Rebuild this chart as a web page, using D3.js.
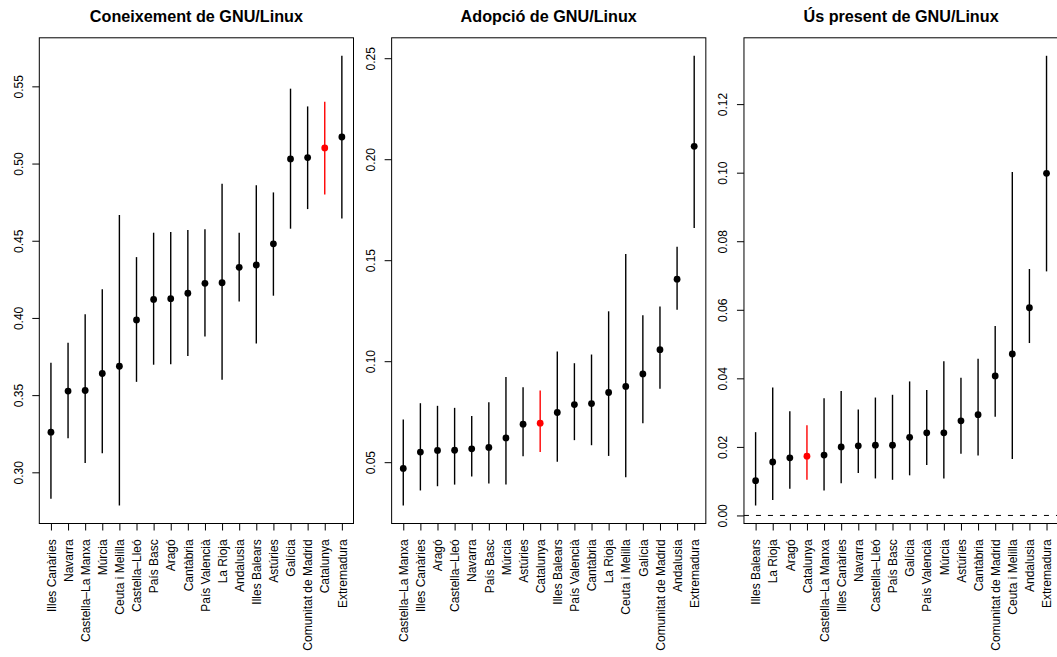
<!DOCTYPE html>
<html>
<head>
<meta charset="utf-8">
<script src="https://cdn.jsdelivr.net/npm/d3@7"></script>
<style>
  html, body { margin: 0; padding: 0; background: #fff; }
  svg { display: block; }
  text { font-family: "Liberation Sans", Arial, Helvetica, sans-serif; fill: #000; }
</style>
</head>
<body>
<script>
// ---------- DATA ----------
const highlight = "Catalunya";

const titles = ["Coneixement de GNU/Linux", "Adopció de GNU/Linux", "Ús present de GNU/Linux"];

// Panel 1: Coneixement
const knowCats = ["Illes Canàries","Navarra","Castella–La Manxa","Múrcia","Ceuta i Melilla","Castella–Lleó",
  "País Basc","Aragó","Cantàbria","País Valencià","La Rioja","Andalusia","Illes Balears","Astúries",
  "Galícia","Comunitat de Madrid","Catalunya","Extremadura"];
const knowEst = [0.326,0.3526,0.353,0.364,0.3687,0.3987,0.412,0.4125,0.416,0.4224,0.4228,0.4328,0.4343,0.448,0.503,0.5039,0.5101,0.5172];
const knowLo  = [0.2828,0.322,0.306,0.3124,0.2785,0.3586,0.3697,0.370,0.3753,0.3879,0.360,0.4106,0.3834,0.4144,0.4578,0.4705,0.480,0.4644];
const knowHi  = [0.371,0.3839,0.4024,0.4185,0.4666,0.4394,0.4552,0.4556,0.4569,0.4575,0.4869,0.4552,0.486,0.4813,0.5485,0.537,0.540,0.5698];
const knowTicks = [0.30,0.35,0.40,0.45,0.50,0.55];

// Panel 2: Adopció
const adoptCats = ["Castella–La Manxa","Illes Canàries","Aragó","Castella–Lleó","Navarra","País Basc","Múrcia",
  "Astúries","Catalunya","Illes Balears","País Valencià","Cantàbria","La Rioja","Ceuta i Melilla","Galícia",
  "Comunitat de Madrid","Andalusia","Extremadura"];
const adoptEst = [0.0469,0.055,0.0558,0.0559,0.0566,0.0573,0.062,0.0688,0.0693,0.0746,0.0785,0.079,0.0845,0.0875,0.0937,0.1057,0.1406,0.2064];
const adoptLo  = [0.02855,0.036,0.0381,0.0389,0.0429,0.0394,0.0389,0.053,0.055,0.0502,0.0609,0.0584,0.0531,0.0426,0.0693,0.0863,0.1255,0.166];
const adoptHi  = [0.0711,0.0792,0.0779,0.0769,0.0729,0.0797,0.0922,0.0871,0.0855,0.1048,0.099,0.1033,0.1247,0.1531,0.1227,0.1271,0.1567,0.2512];
const adoptTicks = [0.05,0.10,0.15,0.20,0.25];

// Panel 3: Ús present
const useCats = ["Illes Balears","La Rioja","Aragó","Catalunya","Castella–La Manxa","Illes Canàries","Navarra",
  "Castella–Lleó","País Basc","Galícia","País Valencià","Múrcia","Astúries","Cantàbria","Comunitat de Madrid",
  "Ceuta i Melilla","Andalusia","Extremadura"];
const useEst = [0.01015,0.0156,0.0168,0.0173,0.0176,0.020,0.0203,0.0205,0.0205,0.0228,0.0241,0.0241,0.0276,0.0294,0.0407,0.0471,0.0606,0.0998];
const useLo  = [0.0029,0.0045,0.0078,0.0104,0.0073,0.0094,0.0124,0.0108,0.0104,0.0117,0.0147,0.0108,0.0180,0.0175,0.0288,0.0165,0.0503,0.0712];
const useHi  = [0.0243,0.0373,0.0304,0.0263,0.0342,0.0363,0.0309,0.0344,0.0352,0.0391,0.0366,0.045,0.0402,0.0457,0.0553,0.1002,0.0719,0.1341];
const useTicks = [0.00,0.02,0.04,0.06,0.08,0.10,0.12];
const useRefLine = 0;

// ---------- LAYOUT ----------
const W = 1057, H = 657;
const panelW = W / 3;
const boxLeft = 39.3, boxW = 314.2, boxTop = 37.8, boxBottom = 523.5;

const svg = d3.select("body").append("svg").attr("width", W).attr("height", H);

const panels = [
  {title: titles[0], cats: knowCats, est: knowEst, lo: knowLo, hi: knowHi, ticks: knowTicks, ref: null},
  {title: titles[1], cats: adoptCats, est: adoptEst, lo: adoptLo, hi: adoptHi, ticks: adoptTicks, ref: null},
  {title: titles[2], cats: useCats, est: useEst, lo: useLo, hi: useHi, ticks: useTicks, ref: useRefLine}
];

panels.forEach((p, pi) => {
  const x0 = pi * panelW + boxLeft;
  const x1 = x0 + boxW;
  const g = svg.append("g");
  const n = p.cats.length;

  // R-style 4% padding
  const xPad = (n - 1) * 0.04;
  const x = d3.scaleLinear().domain([1 - xPad, n + xPad]).range([x0, x1]);
  const yMin = d3.min(p.lo), yMax = d3.max(p.hi);
  const yPad = (yMax - yMin) * 0.04;
  const y = d3.scaleLinear().domain([yMin - yPad, yMax + yPad]).range([boxBottom, boxTop]);

  const clipId = "clip" + pi;
  svg.append("clipPath").attr("id", clipId).append("rect")
    .attr("x", x0).attr("y", boxTop).attr("width", boxW).attr("height", boxBottom - boxTop);

  // title
  g.append("text").attr("x", (x0 + x1) / 2).attr("y", 21.9)
    .attr("text-anchor", "middle").style("font-weight", "bold").style("font-size", "16.2px")
    .text(p.title);

  // reference line
  if (p.ref !== null) {
    g.append("line").attr("clip-path", `url(#${clipId})`)
      .attr("x1", x0).attr("x2", x1).attr("y1", y(p.ref)).attr("y2", y(p.ref))
      .attr("stroke", "#000").attr("stroke-width", 1).attr("stroke-dasharray", "5,7");
  }

  const data = p.cats.map((c, i) => ({c, i: i + 1, est: p.est[i], lo: p.lo[i], hi: p.hi[i]}));
  const col = d => d.c === highlight ? "#ff0000" : "#000";

  g.selectAll("line.ci").data(data).enter().append("line").attr("class", "ci")
    .attr("x1", d => x(d.i)).attr("x2", d => x(d.i))
    .attr("y1", d => y(d.lo)).attr("y2", d => y(d.hi))
    .attr("stroke", col).attr("stroke-width", 1.4);

  g.selectAll("circle.pt").data(data).enter().append("circle").attr("class", "pt")
    .attr("cx", d => x(d.i)).attr("cy", d => y(d.est)).attr("r", 3.4)
    .attr("fill", col);

  // box
  g.append("rect").attr("x", x0).attr("y", boxTop).attr("width", boxW).attr("height", boxBottom - boxTop)
    .attr("fill", "none").attr("stroke", "#000").attr("stroke-width", 1);

  // y axis
  const yAxis = d3.axisLeft(y).tickValues(p.ticks).tickSize(7).tickFormat(d3.format(".2f"));
  const ya = g.append("g").attr("transform", `translate(${x0},0)`).call(yAxis);
  ya.select(".domain").remove();
  ya.selectAll(".tick line").attr("stroke", "#000");
  ya.selectAll(".tick text").remove();
  ya.selectAll(".tick").append("text")
    .attr("transform", "translate(-16.6,0) rotate(-90)")
    .attr("text-anchor", "middle").attr("x", 0).attr("y", 0)
    .style("font-size", "12px").attr("fill", "#000")
    .text(d => d3.format(".2f")(d));

  // x axis
  const xAxis = d3.axisBottom(x).tickValues(d3.range(1, n + 1)).tickSize(7)
    .tickFormat(i => p.cats[i - 1]);
  const xa = g.append("g").attr("transform", `translate(0,${boxBottom})`).call(xAxis);
  xa.select(".domain").remove();
  xa.selectAll(".tick line").attr("stroke", "#000");
  xa.selectAll(".tick text")
    .attr("transform", "translate(0,15.8) rotate(-90)")
    .attr("x", 0).attr("y", 0).attr("dy", "0.35em")
    .attr("text-anchor", "end").style("font-size", "12px").attr("fill", "#000");
});
</script>
</body>
</html>
